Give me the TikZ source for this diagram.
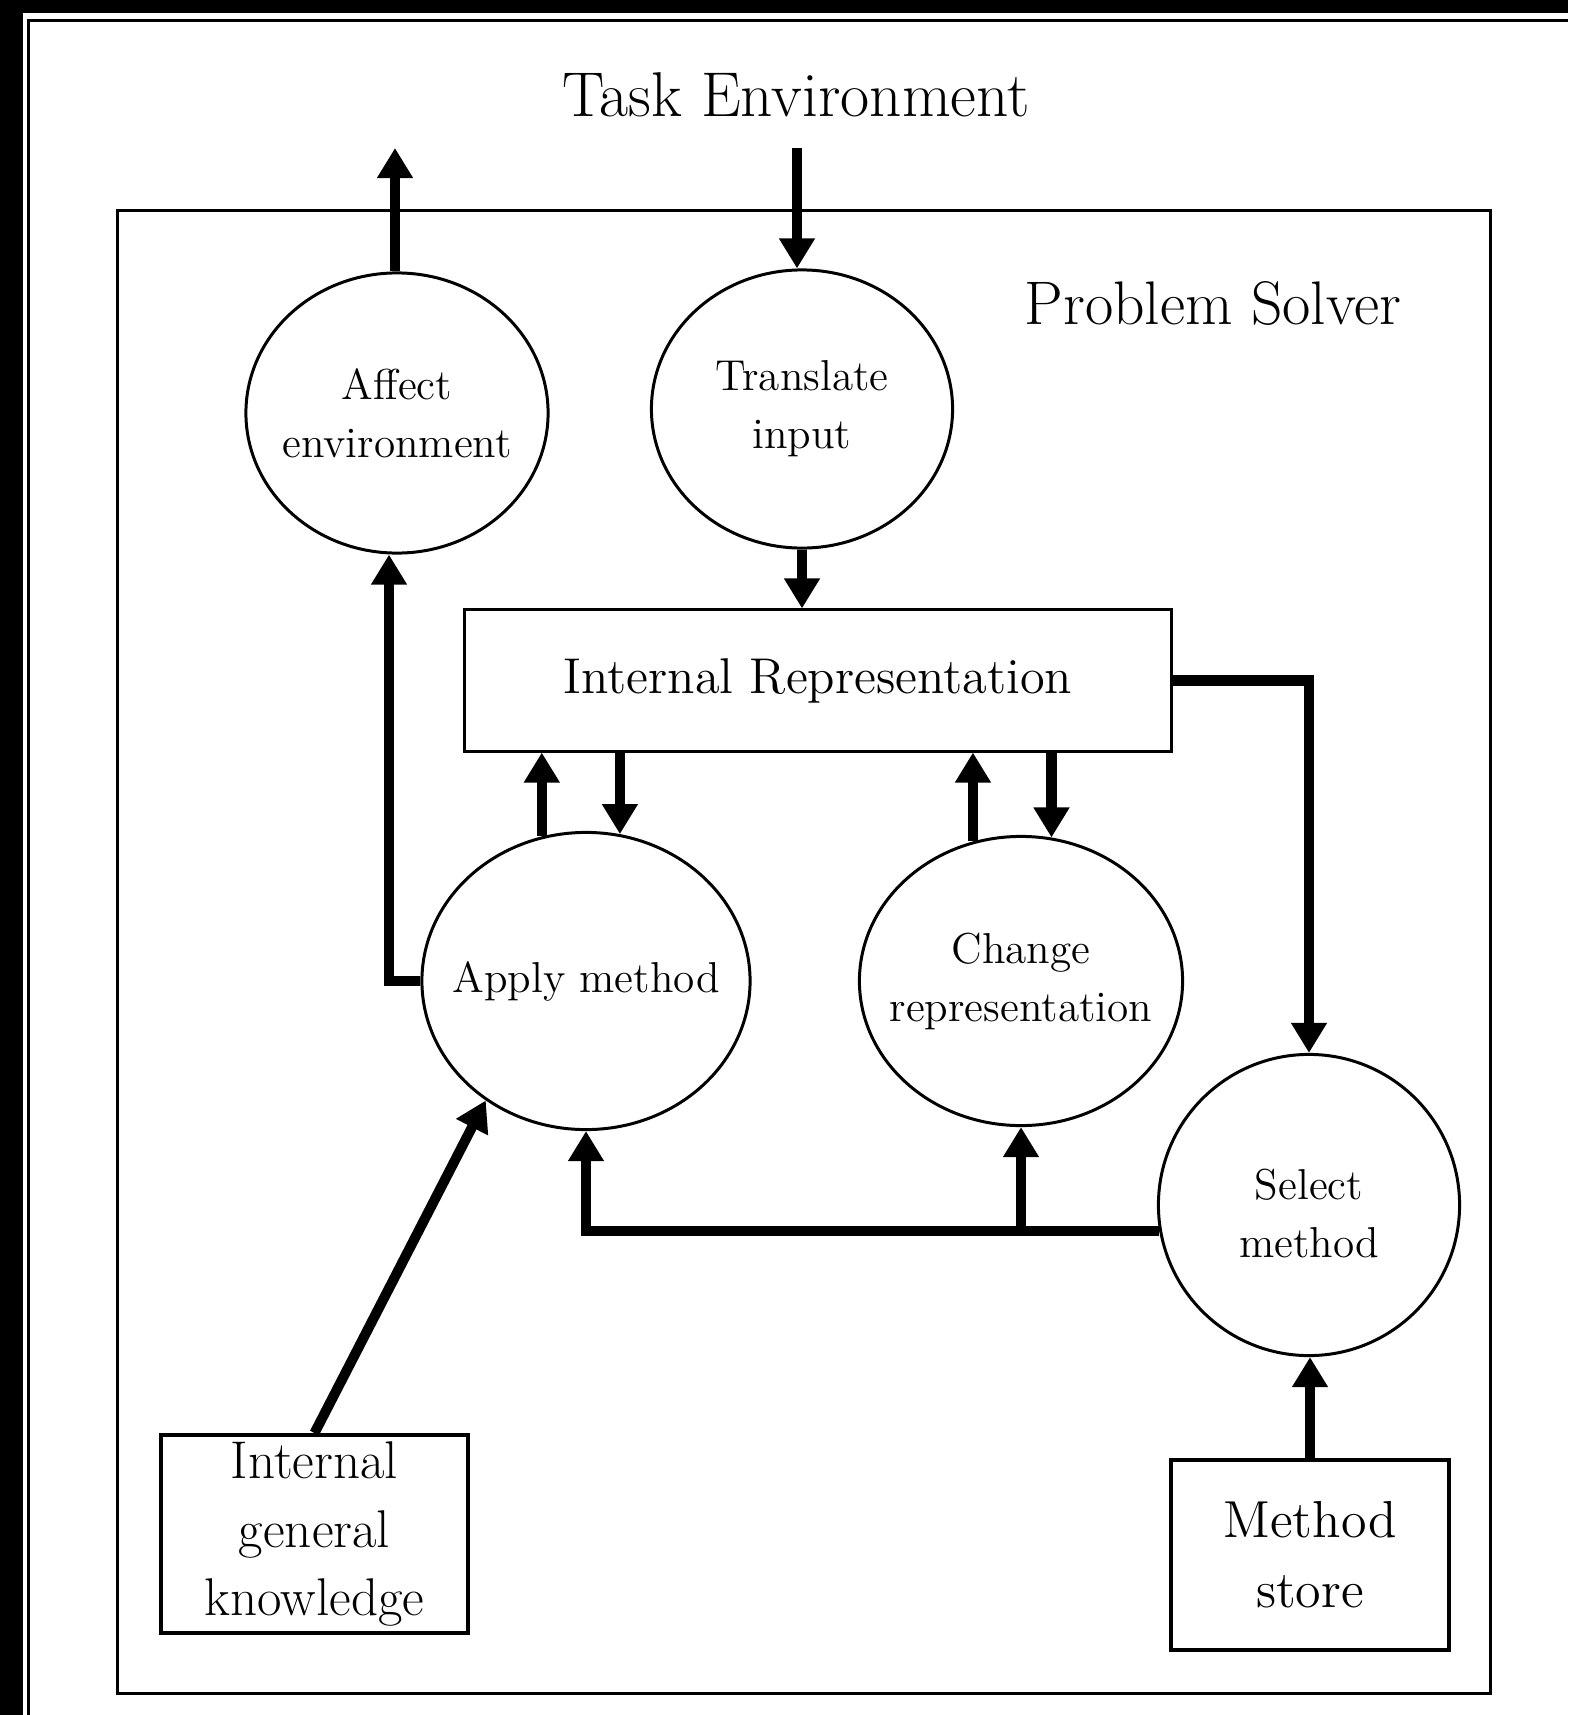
\documentclass[tikz,border=0pt]{standalone}
\usepackage{fontspec}
\usetikzlibrary{shapes.geometric,arrows.meta}
\begin{document}
\begin{tikzpicture}[x=0.01cm,y=-0.01cm,
  thinline/.style={line width=0.85pt},
  bubble/.style={ellipse, draw, thinline, inner sep=0pt},
  bubbletext/.style={align=center, inner sep=0pt, font=\fontsize{12.3}{16.5}\selectfont},
  box/.style={rectangle, draw, thinline, inner sep=0pt, align=center},
  flow/.style={line width=2.85pt, -{Triangle[length=0.30cm,width=0.34cm]}},
]
\useasboundingbox (0,0) rectangle (1568,1715);

% window edge and frame
\fill[black] (0,0) rectangle (1568,13);
\fill[black] (0,0) rectangle (23,1715);
\draw[line width=0.9pt] (28.5,1715) -- (28.5,20.5) -- (1568,20.5);

% problem solver boundary and titles
\node[box, minimum width=13.72cm, minimum height=14.82cm] (ps) at (804,952) {};
\node[font=\fontsize{18}{21}\selectfont] (env) at (796,95) {Task Environment};
\node[font=\fontsize{17.5}{21}\selectfont] (pslabel) at (1213,303) {Problem Solver};

% processes (outline and caption kept apart so the caption does not widen the outline)
\node[bubble, minimum width=3.02cm, minimum height=2.80cm] (aff) at (397,413) {};
\node[bubbletext] (afftext) at (aff) {Affect\\environment};
\node[bubble, minimum width=3.01cm, minimum height=2.78cm] (trans) at (802,409) {};
\node[bubbletext] (transtext) at (trans) {Translate\\input};
\node[bubble, minimum width=3.28cm, minimum height=2.97cm] (apply) at (586,981) {};
\node[bubbletext] (applytext) at (apply) {Apply method};
\node[bubble, minimum width=3.23cm, minimum height=2.89cm] (change) at (1021,981) {};
\node[bubbletext] (changetext) at (change) {Change\\representation};
\node[bubble, minimum width=3.01cm, minimum height=3.01cm] (sel) at (1309,1205) {};
\node[bubbletext] (seltext) at ([yshift=-0.08cm]sel.center) {Select\\method};

% stores
\node[box, minimum width=7.06cm, minimum height=1.41cm,
  font=\fontsize{14.3}{17}\selectfont] (ir) at (818,680.5) {Internal Representation};
\node[box, line width=1.1pt, minimum width=3.07cm, minimum height=1.98cm,
  font=\fontsize{15.1}{19.4}\selectfont] (igk) at (314.5,1534) {Internal\\general\\knowledge};
\node[box, line width=0.95pt, minimum width=2.78cm, minimum height=1.90cm,
  font=\fontsize{14.8}{20}\selectfont] (ms) at (1310,1555) {Method\\store};

% connectors
\coordinate (envout) at (395,148);
\coordinate (envin) at (797,148);
\coordinate (lft) at (389,0);

\draw[flow] (aff.north -| envout) -- (envout);
\draw[flow] (envin) -- (envin |- trans.north);
\draw[flow] (trans.south) -- (trans.south |- ir.north);

\draw[flow] (apply.107) -- (apply.107 |- ir.south);
\draw[flow] (apply.77 |- ir.south) -- (apply.77);
\draw[flow] (change.109) -- (change.109 |- ir.south);
\draw[flow] (change.78 |- ir.south) -- (change.78);

\draw[flow] (ir.east) -| (sel.north);
\draw[flow] (apply.west) -- (apply.west -| lft) -- (lft |- aff.south);
\draw[flow] (igk.north) -- (apply.230);
\draw[flow] (sel.190) -| (apply.south);
\draw[flow] (sel.190 -| change.south) -- (change.south);
\draw[flow] (ms.north) -- (ms.north |- sel.south);
\end{tikzpicture}
\end{document}
